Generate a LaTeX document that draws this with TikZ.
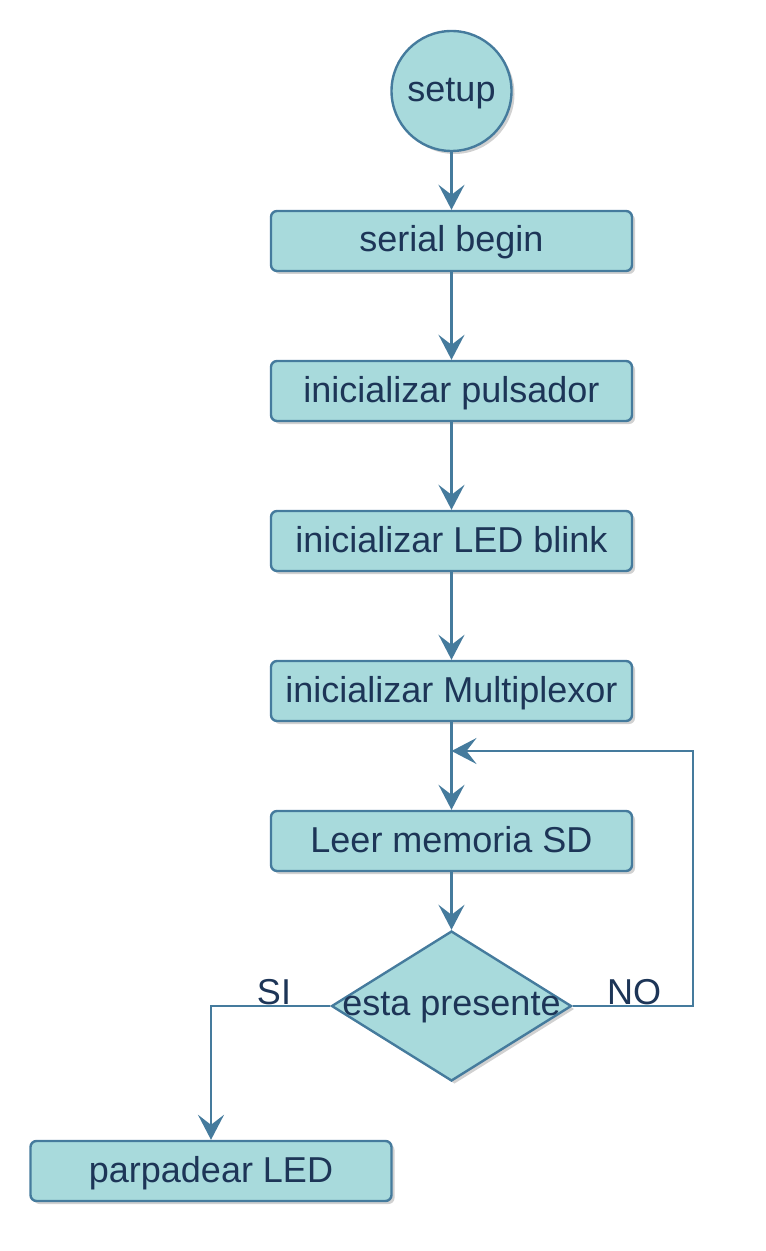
\documentclass[tikz,border=0pt]{standalone}
\usepackage{xcolor}
\usepackage{fontspec}
\setmainfont{Liberation Sans}
\usepackage{tikz}
\usetikzlibrary{arrows.meta,shapes.geometric,shadows}
\definecolor{boxfill}{HTML}{A8DADC}
\definecolor{boxline}{HTML}{457B9D}
\definecolor{boxtext}{HTML}{1D3557}

\begin{document}
\begin{tikzpicture}[x=0.5pt,y=-0.5pt,
  every node/.style={font=\fontsize{18}{21}\selectfont, text=boxtext},
  shade/.style={drop shadow={shadow xshift=1.5pt, shadow yshift=-1.5pt, opacity=0.3, fill=black!60}},
  block/.style={draw=boxline, fill=boxfill, line width=1.2pt, rounded corners=3pt,
    minimum width=180.5pt, minimum height=30pt, inner sep=0pt,
    text height=13pt, text depth=2pt, shade},
  start/.style={circle, draw=boxline, fill=boxfill, line width=1.2pt,
    minimum size=60pt, inner sep=0pt, text height=13pt, text depth=2pt, shade},
  choice/.style={diamond, draw=boxline, fill=boxfill, line width=1.2pt,
    minimum width=120pt, minimum height=75pt, inner sep=0pt,
    text height=12pt, text depth=3pt, shade},
  tag/.style={anchor=base, inner sep=0pt},
  flow/.style={draw=boxline, line width=1.2pt, -{Stealth[length=12.5pt,width=13pt,inset=5pt]}}]
\useasboundingbox (0,0) rectangle (765,1251);

\node[start] (setup) at (451.5,91) {setup};
\node[block] (serial) at (451.5,241) {serial begin};
\node[block] (pulsador) at (451.5,391) {inicializar pulsador};
\node[block] (blink) at (451.5,541) {inicializar LED blink};
\node[block] (mux) at (451.5,691) {inicializar Multiplexor};
\node[block] (leer) at (451.5,841) {Leer memoria SD};
\node[choice] (esta) at (451.5,1006) {\makebox[0pt]{esta presente}};
\node[block] (parpadear) at (211,1171) {parpadear LED};
\coordinate (join) at (451.5,751);

\node[tag] (si) at (274,1004) {SI};
\node[tag] (no) at (634,1004) {NO};

\draw[flow] (setup) -- (serial);
\draw[flow] (serial) -- (pulsador);
\draw[flow] (pulsador) -- (blink);
\draw[flow] (blink) -- (mux);
\draw[flow] (mux) -- (leer);
\draw[flow] (leer) -- (esta);
\draw[flow] (esta.east) -- ++(120,0) |- (join);
\draw[flow] (esta.west) -| (parpadear.north);
\end{tikzpicture}
\end{document}
